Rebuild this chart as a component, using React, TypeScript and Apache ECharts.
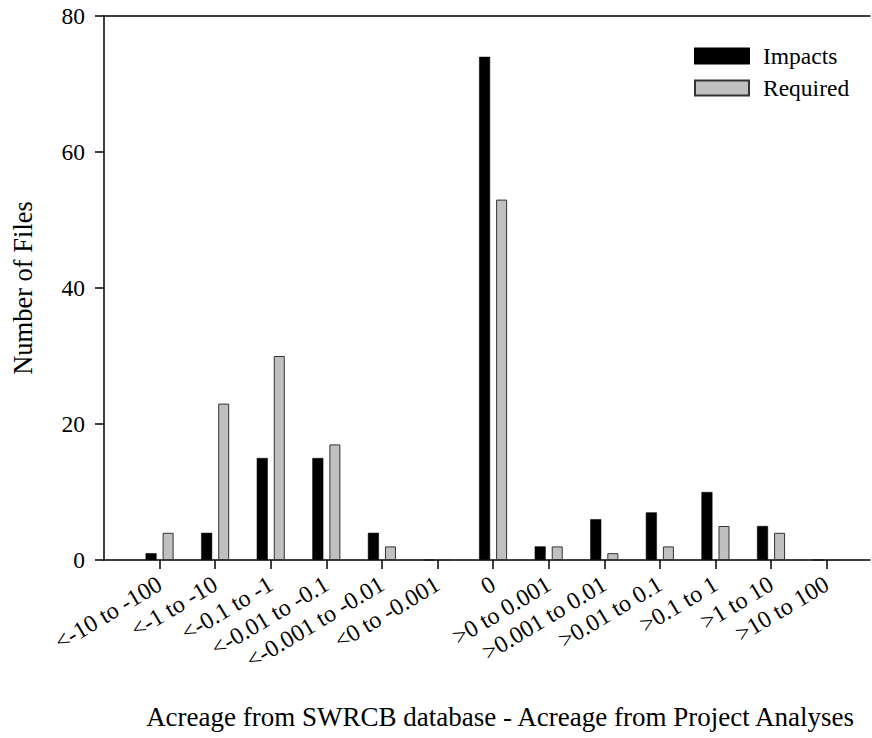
import React, { useEffect, useRef } from "react";
import * as echarts from "echarts";

const categories = [
  "<-10 to -100",
  "<-1 to -10",
  "<-0.1 to -1",
  "<-0.01 to -0.1",
  "<-0.001 to -0.01",
  "<0 to -0.001",
  "0",
  ">0 to 0.001",
  ">0.001 to 0.01",
  ">0.01 to 0.1",
  ">0.1 to 1",
  ">1 to 10",
  ">10 to 100",
];
const impacts = [1, 4, 15, 15, 4, 0, 74, 2, 6, 7, 10, 5, 0];
const required = [4, 23, 30, 17, 2, 0, 53, 2, 1, 2, 5, 4, 0];
const yTicks = [0, 20, 40, 60, 80];

const FONT = "'Liberation Serif', 'Times New Roman', serif";

export default function App() {
  const ref = useRef<HTMLDivElement>(null);
  useEffect(() => {
    if (!ref.current) return;
    const chart = echarts.init(ref.current, undefined, { renderer: "svg" });
    const positions = categories.map((_, i) => i);
    const xMin = -1;
    const xMax = 12.78;
    chart.setOption({
      animation: false,
      backgroundColor: "#fff",
      textStyle: { fontFamily: FONT, color: "#000" },
      legend: {
        orient: "vertical",
        left: 694,
        top: 44,
        padding: 0,
        itemWidth: 54,
        itemHeight: 15,
        itemGap: 8,
        icon: "rect",
        textStyle: { fontFamily: FONT, fontSize: 23.5, color: "#000", padding: [0, 0, 0, 9] },
        data: ["Impacts", "Required"],
      },
      grid: { left: 104, right: 2, top: 16, bottom: 178, outerBoundsMode: "none" },
      xAxis: [
        {
          type: "value",
          min: xMin,
          max: xMax,
          position: "bottom",
          name: "Acreage from SWRCB database - Acreage from Project Analyses",
          nameLocation: "middle",
          nameGap: 143,
          nameTextStyle: { fontFamily: FONT, fontSize: 27, color: "#000", padding: [0, 0, 0, 26] },
          axisLine: { show: true, onZero: false, lineStyle: { color: "#000", width: 1.5 } },
          axisTick: {
            show: true,
            length: 9,
            customValues: positions,
            lineStyle: { color: "#000", width: 1.5 },
          },
          axisLabel: {
            customValues: positions,
            rotate: 31,
            margin: 22,
            fontFamily: FONT,
            fontSize: 24,
            color: "#000",
            formatter: (v: number) => categories[Math.round(v)] ?? "",
          },
          splitLine: { show: false },
        },
        {
          type: "value",
          min: xMin,
          max: xMax,
          position: "top",
          axisLine: { show: true, onZero: false, lineStyle: { color: "#000", width: 1.5 } },
          axisTick: { show: false },
          axisLabel: { show: false },
          splitLine: { show: false },
        },
      ],
      yAxis: {
        type: "value",
        min: 0,
        max: 80,
        interval: 20,
        name: "Number of Files",
        nameLocation: "middle",
        nameGap: 68,
        nameTextStyle: { fontFamily: FONT, fontSize: 26.5, color: "#000" },
        axisLine: { show: true, onZero: false, lineStyle: { color: "#000", width: 1.5 } },
        axisTick: { show: true, length: 9, lineStyle: { color: "#000", width: 1.5 } },
        axisLabel: {
          margin: 19,
          fontFamily: FONT,
          fontSize: 23.5,
          color: "#000",
          formatter: (v: number) => (yTicks.includes(v) ? String(v) : ""),
        },
        splitLine: { show: false },
      },
      series: [
        {
          name: "Impacts",
          type: "bar",
          xAxisIndex: 0,
          barWidth: 11,
          barGap: "55%",
          itemStyle: { color: "#000", borderColor: "#000", borderWidth: 0.5 },
          data: impacts.map((v, i) => [i, v]),
        },
        {
          name: "Required",
          type: "bar",
          xAxisIndex: 0,
          barWidth: 11,
          barGap: "55%",
          itemStyle: { color: "#c0c0c0", borderColor: "#333", borderWidth: 1 },
          data: required.map((v, i) => [i, v]),
        },
      ],
    });
    return () => chart.dispose();
  }, []);
  return (
    <div
      ref={ref}
      style={{ position: "absolute", left: 0, top: 0, width: 872, height: 738 }}
    />
  );
}
